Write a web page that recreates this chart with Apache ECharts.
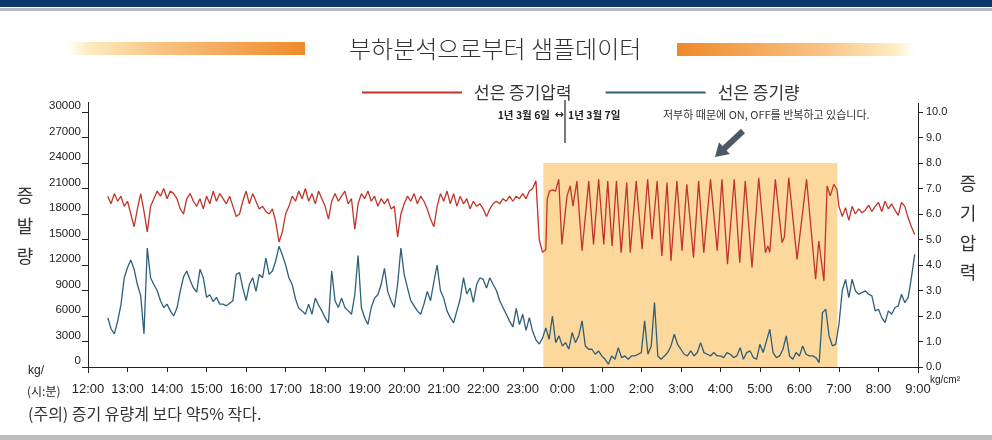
<!DOCTYPE html>
<html><head><meta charset="utf-8">
<script src="https://cdn.jsdelivr.net/npm/echarts@6.0.0/dist/echarts.min.js"></script>
<style>html,body{margin:0;padding:0;background:#fff}#c{width:992px;height:440px}</style>
</head><body><div id="c"></div>
<script>
// ---- data ----
const xLabels = ['12:00','13:00','14:00','15:00','16:00','17:00','18:00','19:00','20:00','21:00','22:00','23:00','0:00','1:00','2:00','3:00','4:00','5:00','6:00','7:00','8:00','9:00'];
const leftTicks = [0,3000,6000,9000,12000,15000,18000,21000,24000,27000,30000];
const rightTicks = [0,1,2,3,4,5,6,7,8,9,10];
const sampleStart = 12.5;      // 12:30, 5-minute samples
const sampleStep = 1 / 12;

// 증기량 (kg/h), every 5 min from 12:30 to 8:55
const steamFlow = [
 5800,4500,3900,5400,7300,10500,11700,12600,11500,9700,
 8400,3900,14000,10500,9700,9000,7800,7000,7400,6600,
 6000,6900,8900,10600,11300,10200,9300,8800,11500,10500,
 8200,8500,7700,8200,7400,7400,7200,7500,7800,10900,
 11100,9300,7800,9700,10500,8900,10900,10500,12800,10900,
 11300,12500,14200,13200,12000,10500,9700,8000,6900,6600,
 6200,7400,6200,8100,7300,6600,5800,5200,11300,7800,
 7000,8100,7000,6600,6200,8500,13100,7000,5800,5000,
 7000,8100,8500,9700,11600,8900,7800,7000,9700,14000,
 10900,9300,7800,7200,6600,6200,7400,8900,7800,10000,
 12000,9000,8100,6600,5800,5200,6600,8000,10500,8600,
 9300,7600,9700,10500,10300,9300,10500,9700,9000,7800,
 7000,6200,5400,4700,6900,5000,6200,4300,5800,4200,
 3200,2700,3400,4600,3260,6000,2870,3660,2480,2870,
 2090,4050,2870,3660,5420,2480,2090,2090,1500,1890,
 1300,910,330,1300,910,2280,1110,1300,910,1300,
 1300,1500,1700,5420,1500,2480,7580,1300,910,1300,
 1700,2480,3850,2670,2090,1500,1300,1890,1300,1700,
 2870,1700,1500,1300,1700,1300,1300,1110,1700,1500,
 1110,1300,2280,910,1700,1890,1110,910,2670,1700,
 3070,4440,1700,1110,1300,2090,3660,1300,910,1700,
 1300,2480,1500,1300,1300,1110,520,6400,6790,3660,
 2480,2670,5000,9000,10300,8160,10320,8950,8560,8750,
 8950,8560,8360,6600,6790,5810,5220,6600,6200,7000,
 7180,8560,7570,8160,10520,13260
];

// 증기압력 (kg/cm2), 5-min samples 12:30 - 23:35
const pressureBefore = [
 6.7,6.4,6.8,6.5,6.7,6.3,6.5,6.0,5.5,6.2,
 6.8,6.1,5.3,6.3,6.6,6.9,6.7,7.0,6.6,6.9,
 6.8,6.6,6.2,6.0,6.6,6.8,6.5,6.3,6.6,6.2,
 6.7,6.4,6.9,6.5,6.8,6.6,6.4,6.7,6.3,5.9,
 6.0,6.5,6.9,6.4,6.8,6.5,6.2,6.3,6.1,6.0,
 6.2,5.7,4.9,5.3,6.0,6.3,6.7,6.5,6.9,6.6,
 7.0,6.5,6.8,6.4,6.9,6.6,6.3,5.8,6.5,6.8,
 6.5,6.7,6.9,6.4,6.6,5.4,6.4,6.8,6.6,6.9,
 6.5,6.7,6.3,6.6,6.4,6.6,6.2,6.3,5.1,6.0,
 6.4,6.7,6.5,6.8,6.4,6.7,6.5,6.2,5.8,5.5,
 6.3,6.8,6.5,6.9,6.4,6.8,6.3,6.7,6.4,6.6,
 6.2,6.5,6.3,6.4,6.2,5.9,6.2,6.4,6.5,6.4,
 6.6,6.5,6.7,6.5,6.7,6.6,6.8,6.6,6.9,7.0,
 7.3,5.0,4.5,4.6
];
// ON/OFF cycling period (peaks and troughs), hours after 12:00 of day 1
const cycleHours = [23.62,23.68,23.75,23.83,23.91,23.99,24.12,24.20,24.27,24.37,24.50,24.67,24.79,24.92,25.05,25.15,25.26,25.37,25.49,25.63,25.72,25.87,26.02,26.16,26.27,26.40,26.52,26.65,26.75,26.90,27.03,27.15,27.32,27.45,27.58,27.75,27.92,28.04,28.18,28.35,28.49,28.63,28.80,28.97,29.14,29.20,29.25,29.39,29.56,29.62,29.73,29.94,30.18,30.41,30.49,30.62,30.70,30.78,30.87,30.95];
const cyclePressure = [6.6,6.9,6.95,6.9,7.36,4.81,6.71,7.1,6.31,7.29,4.56,7.29,4.81,7.36,4.81,7.29,4.75,7.29,4.48,7.23,4.48,7.29,4.62,7.36,5.01,7.29,4.35,7.23,4.16,7.29,4.56,7.16,4.29,7.29,4.48,7.36,4.56,7.36,4.03,7.36,4.09,7.29,3.90,7.42,4.48,4.75,4.5,7.36,4.88,5.1,7.42,4.22,7.36,3.44,4.94,3.37,7.10,6.71,7.16,6.97];
// 5-min samples 7:00 - 8:55
const afterStart = 31.0;
const pressureAfter = [6.3,5.9,6.25,5.75,6.3,6.0,6.2,6.05,6.15,6.35,6.1,6.3,6.45,6.1,6.5,6.2,6.4,6.15,5.95,6.45,6.3,5.85,5.5,5.2];

const lowLoadRange = [23.52, 30.96];   // highlighted ON/OFF period
const lowLoadTop = 24000;

// ---- build series data ----
const flowData = steamFlow.map((v, i) => [sampleStart + i * sampleStep, v]);
const pressureData = []
  .concat(pressureBefore.map((v, i) => [sampleStart + i * sampleStep, v]))
  .concat(cycleHours.map((h, i) => [h, cyclePressure[i]]))
  .concat(pressureAfter.map((v, i) => [afterStart + i * sampleStep, v]));

const KR = "'Noto Sans CJK KR', 'Noto Sans', sans-serif";
const NUM = "'Liberation Sans', Arial, sans-serif";
const RED = '#c0342a', BLUE = '#2d5f78';

const chart = echarts.init(document.getElementById('c'), null, {renderer: 'canvas'});
function txt(text, x, y, font, opts) {
  return Object.assign({type: 'text', silent: true, style: Object.assign({
    text: text, x: x, y: y, font: font, fill: '#333',
    textAlign: 'left', textVerticalAlign: 'middle', align: 'left', verticalAlign: 'middle'
  }, opts || {})});
}
const option = {
  animation: false,
  backgroundColor: '#fff',
  title: {
    text: '부하분석으로부터 샘플데이터', left: 344, top: 32,
    textStyle: {fontFamily: KR, fontSize: 24, fontWeight: 300, color: '#333'}
  },
  legend: {
    left: 357, top: 79, itemWidth: 100, itemHeight: 2, itemGap: 34, icon: 'rect',
    data: ['선은 증기압력', '선은 증기량'],
    textStyle: {fontFamily: KR, fontSize: 17, color: '#333', padding: [0, 0, 0, 7]}
  },
  grid: {left: 88, right: 74, top: 112, bottom: 73},
  xAxis: {
    type: 'value', min: 12, max: 33, interval: 1, offset: 3,
    axisLine: {lineStyle: {color: '#222', width: 1}},
    axisTick: {length: 5, lineStyle: {color: '#222'}},
    axisLabel: {margin: 13, fontSize: 13, color: '#222', fontFamily: NUM,
      formatter: v => xLabels[Math.round(v - 12)]},
    splitLine: {show: false}
  },
  yAxis: [{
    type: 'value', min: leftTicks[0], max: leftTicks[leftTicks.length - 1], interval: 3000,
    axisLine: {show: true, lineStyle: {color: '#222'}},
    axisTick: {show: true, length: 6, lineStyle: {color: '#222'}},
    axisLabel: {margin: 7, fontSize: 11.5, color: '#222', fontFamily: NUM, verticalAlign: 'bottom',
      formatter: v => String(v)},
    splitLine: {show: false}
  }, {
    type: 'value', position: 'right', min: rightTicks[0], max: rightTicks[rightTicks.length - 1], interval: 1,
    axisLine: {show: true, lineStyle: {color: '#222'}},
    axisTick: {show: true, length: 5, lineStyle: {color: '#222'}},
    axisLabel: {margin: 8, fontSize: 11, color: '#222', fontFamily: NUM, formatter: v => v.toFixed(1)},
    splitLine: {show: false}
  }],
  series: [{
    name: '선은 증기량', type: 'line', yAxisIndex: 0, data: flowData,
    symbol: 'none', lineStyle: {color: BLUE, width: 1.3}, itemStyle: {color: BLUE}, z: 3,
    markArea: {silent: true, itemStyle: {color: '#fcd89c'},
      data: [[{xAxis: lowLoadRange[0], yAxis: 0}, {xAxis: lowLoadRange[1], yAxis: lowLoadTop}]]}
  }, {
    name: '선은 증기압력', type: 'line', yAxisIndex: 1, data: pressureData,
    symbol: 'none', lineStyle: {color: RED, width: 1.3}, itemStyle: {color: RED}, z: 4
  }],
  graphic: [
    {type: 'rect', silent: true, shape: {x: 0, y: 0, width: 992, height: 7}, style: {fill: '#0b3868'}},
    {type: 'rect', silent: true, shape: {x: 0, y: 8, width: 992, height: 3}, style: {fill: '#b8b8b8'}},
    {type: 'rect', silent: true, shape: {x: 0, y: 435, width: 992, height: 5}, style: {fill: '#bdbdbd'}},
    {type: 'rect', silent: true, shape: {x: 66, y: 42, width: 239, height: 13},
      style: {fill: new echarts.graphic.LinearGradient(0, 0, 1, 0, [
        {offset: 0, color: 'rgba(255,246,215,0)'}, {offset: 0.08, color: '#fdeec4'},
        {offset: 0.4, color: '#f9c281'}, {offset: 1, color: '#ee8a2a'}])}},
    {type: 'rect', silent: true, shape: {x: 677, y: 43, width: 239, height: 13},
      style: {fill: new echarts.graphic.LinearGradient(0, 0, 1, 0, [
        {offset: 0, color: '#ee8a2a'}, {offset: 0.6, color: '#f9c281'},
        {offset: 0.92, color: '#fdeec4'}, {offset: 1, color: 'rgba(255,246,215,0)'}])}},
    // axis line extensions
    {type: 'line', silent: true, shape: {x1: 88.5, y1: 102, x2: 88.5, y2: 373}, style: {stroke: '#222', lineWidth: 1}},
    {type: 'line', silent: true, shape: {x1: 918.5, y1: 103, x2: 918.5, y2: 373}, style: {stroke: '#222', lineWidth: 1}},
    // axis names
    txt('증\n발\n량', 25, 226, '18px ' + KR, {textAlign: 'center', align: 'center', lineHeight: 30.5}),
    txt('증\n기\n압\n력', 968, 228, '18px ' + KR, {textAlign: 'center', align: 'center', lineHeight: 29.7}),
    txt('kg/', 28, 371, '12px ' + NUM, {fill: '#222'}),
    txt('(시:분)', 27, 391, '12px ' + KR, {fill: '#222'}),
    txt('kg/cm²', 930, 380, '10px ' + NUM, {fill: '#222'}),
    // annotations
    {type: 'line', silent: true, shape: {x1: 565, y1: 100, x2: 565, y2: 143}, style: {stroke: '#222', lineWidth: 1.2}},
    txt('1년 3월 6일', 550, 115, 'bold 10.5px ' + KR, {textAlign: 'right', align: 'right', fill: '#222'}),
    txt('↔', 559, 115, 'bold 11px DejaVu Sans', {textAlign: 'center', align: 'center', fill: '#222'}),
    txt('1년 3월 7일', 568, 115, 'bold 10.5px ' + KR, {fill: '#222'}),
    txt('저부하 때문에 ON, OFF를 반복하고 있습니다.', 663, 115, '11px ' + KR, {fill: '#333'}),
    {type: 'polygon', silent: true, shape: {points: [[745.0,133.2],[726.5,150.4],[730.0,154.0],[715,157],[719.0,142.3],[722.5,146.0],[741.0,128.8]]},
      style: {fill: '#4c5965'}},
    txt('(주의) 증기 유량계 보다 약5% 작다.', 28, 414, '16px ' + KR, {fill: '#333'})
  ]
};
chart.setOption(option);
</script>
</body></html>
